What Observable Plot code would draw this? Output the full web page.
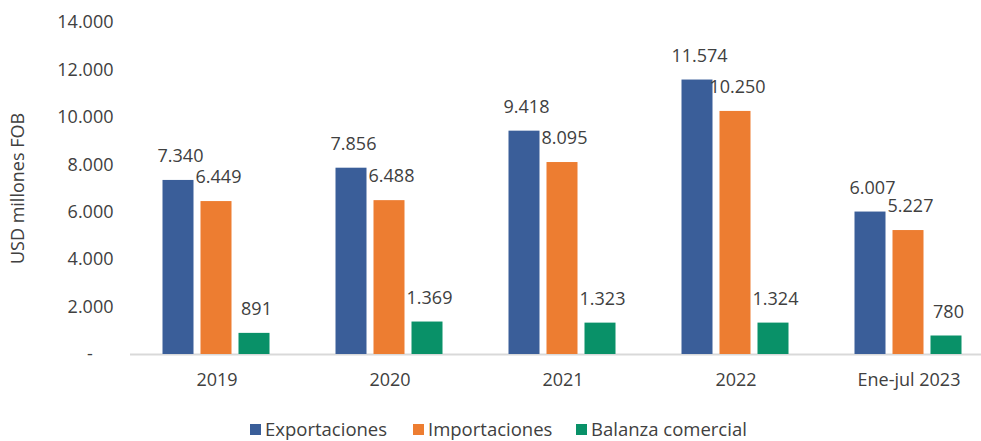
<!DOCTYPE html>
<html>
<head>
<meta charset="utf-8">
<script src="https://cdn.jsdelivr.net/npm/d3@7"></script>
<script src="https://cdn.jsdelivr.net/npm/@observablehq/plot@0.6"></script>
<style>
  html, body { margin: 0; padding: 0; background: #fff; }
  body { width: 981px; height: 441px; overflow: hidden; font-family: "Open Sans", sans-serif; color: #404040; }
  #legend { display: flex; height: 22px; line-height: 22px; font-size: 18.5px; padding-left: 250px; margin-top: 0px; }
  .item { display: flex; align-items: center; width: 163px; white-space: nowrap; }
  .item:last-child { width: auto; }
  .sw { width: 11px; height: 11px; margin-right: 4px; flex: none; }
</style>
</head>
<body>
<div id="chart"></div>
<div id="legend"></div>
<script>
const categories = ["2019", "2020", "2021", "2022", "Ene-jul 2023"];
const series = ["Exportaciones", "Importaciones", "Balanza comercial"];
const exportaciones = [7340, 7856, 9418, 11574, 6007];
const importaciones = [6449, 6488, 8095, 10250, 5227];
const balanza = [891, 1369, 1323, 1324, 780];
const colors = ["#3A5E99", "#ED7D31", "#099168"];
const yTicks = [0, 2000, 4000, 6000, 8000, 10000, 12000, 14000];

const values = [exportaciones, importaciones, balanza];
const data = [];
categories.forEach((c, i) => {
  series.forEach((s, j) => data.push({cat: c, series: s, value: values[j][i]}));
});

const loc = d3.formatLocale({decimal: ",", thousands: ".", grouping: [3], currency: ["", ""]});
const fmt = loc.format(",d");
const tickFmt = d => d === 0 ? "-\u2007\u2007" : fmt(d);

const chart = Plot.plot({
  width: 981,
  height: 418,
  marginTop: 22,
  marginBottom: 64,
  marginLeft: 129.5,
  marginRight: 0,
  style: {fontFamily: "Open Sans", fontSize: "18px", color: "#404040", background: "#fff", overflow: "visible"},
  fx: {domain: categories, range: [129.5, 995], paddingInner: 0, paddingOuter: 0, label: null},
  x: {domain: series, paddingInner: 0.184, paddingOuter: 0.868, axis: null},
  y: {domain: [0, 14000]},
  color: {domain: series, range: colors},
  marks: [
    Plot.axisY(yTicks, {tickSize: 0, tickPadding: 17, tickFormat: tickFmt, label: "USD millones FOB",
      labelAnchor: "center", labelArrow: "none", labelOffset: 119, fontSize: 18}),
    Plot.axisFx({anchor: "bottom", tickSize: 0, tickPadding: 19, label: null, fontSize: 18}),
    Plot.ruleY([0], {stroke: "#D9D9D9", strokeWidth: 2}),
    Plot.barY(data, {fx: "cat", x: "series", y: "value", fill: "series"}),
    Plot.text(data, {fx: "cat", x: "series", y: "value", text: d => fmt(d.value), dy: -24, dx: 2,
      lineAnchor: "middle", fill: "#404040", fontSize: 18})
  ]
});
document.getElementById("chart").appendChild(chart);

const legend = document.getElementById("legend");
series.forEach((s, i) => {
  const it = document.createElement("div");
  it.className = "item";
  const sw = document.createElement("span");
  sw.className = "sw";
  sw.style.background = colors[i];
  const t = document.createElement("span");
  t.textContent = s;
  it.appendChild(sw);
  it.appendChild(t);
  legend.appendChild(it);
});
</script>
</body>
</html>
